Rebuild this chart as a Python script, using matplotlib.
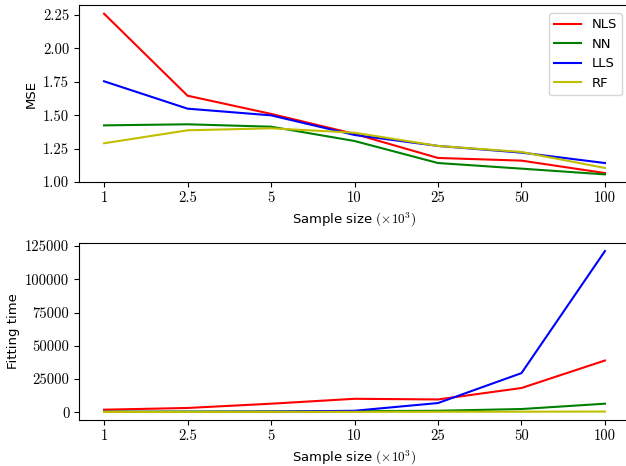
import numpy as np
import matplotlib
matplotlib.use('Agg')
import matplotlib.pyplot as plt

plt.rcParams['mathtext.fontset'] = 'cm'
plt.rcParams['font.size'] = 9.5

# ==============================================================================
#                                   DATA
# ==============================================================================

sizes = ['1', '2.5', '5', '10', '25', '50', '100']
methods = ['NLS', 'NN', 'LLS', 'RF']
colors = ['r', 'g', 'b', 'y']

mse_nls = [2.26, 1.646, 1.51, 1.36, 1.18, 1.16, 1.067]
mse_nn = [1.424, 1.432, 1.414, 1.307, 1.142, 1.10, 1.057]
mse_lls = [1.754, 1.549, 1.499, 1.352, 1.27, 1.22, 1.142]
mse_rf = [1.29, 1.387, 1.402, 1.369, 1.27, 1.225, 1.105]

time_nls = [2000, 3300, 6500, 10200, 9700, 18300, 39000]
time_nn = [500, 600, 700, 900, 1200, 2500, 6500]
time_lls = [300, 350, 500, 1200, 7000, 29500, 121300]
time_rf = [300, 300, 350, 400, 450, 500, 600]

mse = [mse_nls, mse_nn, mse_lls, mse_rf]
times = [time_nls, time_nn, time_lls, time_rf]

# ==============================================================================
#                                   PLOT
# ==============================================================================

fig = plt.figure(figsize=(6.26, 4.66), dpi=100)
W, H = 626., 466.
ax1 = fig.add_axes([79 / W, 1 - 182 / H, (630 - 79) / W, (182 - 5) / H])
ax2 = fig.add_axes([79 / W, 1 - 420 / H, (630 - 79) / W, (420 - 243) / H])

x = np.arange(len(sizes))
tick_font = dict(family='cmr10', size=10.5)

for vals, name, color in zip(mse, methods, colors):
    ax1.plot(x, vals, color=color, label=name, linewidth=1.5)
ax1.set_ylim(1.0, 2.325)
ax1.set_yticks([1.0, 1.25, 1.5, 1.75, 2.0, 2.25])
ax1.set_yticklabels(['1.00', '1.25', '1.50', '1.75', '2.00', '2.25'], **tick_font)
ax1.set_ylabel('MSE')
ax1.legend(loc='upper right', borderaxespad=0.6)

for vals, name, color in zip(times, methods, colors):
    ax2.plot(x, vals, color=color, label=name, linewidth=1.5)
ax2.set_yticks([0, 25000, 50000, 75000, 100000, 125000])
ax2.set_yticklabels(['0', '25000', '50000', '75000', '100000', '125000'], **tick_font)
ax2.set_ylabel('Fitting time')

for ax in (ax1, ax2):
    ax.set_xlim(-0.3, 6.3)
    ax.set_xticks(x)
    ax.set_xticklabels(sizes, **tick_font)
    ax.set_xlabel(r'Sample size $(\times10^3)$')
    ax.spines['right'].set_visible(False)

fig.savefig('out.png', dpi=100)
